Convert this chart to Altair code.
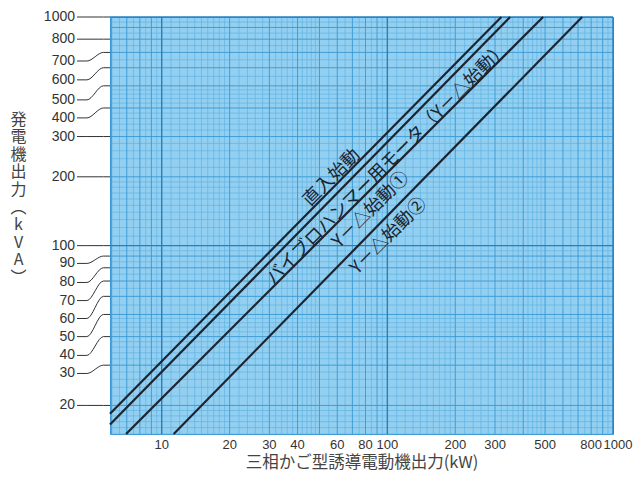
import altair as alt
import pandas as pd

# ---------------- data ----------------
x_ticks = [10, 20, 30, 40, 60, 80, 100, 200, 300, 500, 800]
x_last_tick = [1000]
y_ticks = [1000, 800, 700, 600, 500, 400, 300, 200, 100, 90, 80, 70, 60, 50, 40, 30, 20]
# where each y label is printed (labels are pushed apart, joined by leader lines)
y_label_at = [1000, 800, 642, 531, 434, 362, 300, 200, 100, 83.6, 69, 57.5, 48, 40, 33.1, 27.6, 20]

line_names = ["直入始動", "バイブロハンマー用モータ", "Y－△始動①", "Y－△始動②"]
line_x0 = [5.9, 5.9, 6.95, 11.3]
line_y0 = [18.4, 16.5, 15, 15]
line_x1 = [320, 350, 490, 730]
line_y1 = [1000, 1000, 1000, 1000]

label_texts = ["直入始動", "バイブロハンマー用モータ（Y－△始動）", "Y－△始動①", "Y－△始動②"]
label_x = [56.8, 100.5, 84.6, 101.5]
label_y = [197.6, 228, 143, 110]

x_title = "三相かご型誘導電動機出力(kW)"
y_title = ["発", "電", "機", "出", "力", "︵", "k", "V", "A", "︶"]

X_DOMAIN = [5.9, 1000]
Y_DOMAIN = [15, 1000]
W, H = 503, 417

# ---------------- graph-paper grid (log paper rulings) ----------------
def rulings(lo, hi):
    rows = []
    for d in [1, 10, 100]:
        steps = list(range(10, 20, 1)) + list(range(20, 50, 2)) + list(range(50, 100, 5))
        for i in steps:
            v = d * i / 10
            if i == 10:
                c = "major"
            elif i % 10 == 0:
                c = "mid"
            else:
                c = "fine"
            if lo <= v <= hi:
                rows.append({"v": v, "c": c})
    if hi >= 1000:
        rows.append({"v": 1000.0, "c": "major"})
    return pd.DataFrame(rows)

gx = rulings(X_DOMAIN[0], X_DOMAIN[1])
gy = rulings(Y_DOMAIN[0], Y_DOMAIN[1])

xs = alt.Scale(type="log", domain=X_DOMAIN, nice=False)
ys = alt.Scale(type="log", domain=Y_DOMAIN, nice=False)

styles = {"fine": ("#5bb0e2", 0.6), "mid": ("#3898d4", 0.9), "major": ("#2380c1", 1.4)}

x_axis = alt.Axis(
    labels=False, ticks=False, domain=False, grid=False,
    title=x_title, titleFont="Noto Sans CJK JP", titleFontSize=16.5,
    titleFontWeight="normal", titleColor="#444444", titlePadding=20,
)
y_axis = alt.Axis(
    labels=False, ticks=False, domain=False, grid=False,
    title=y_title, titleAngle=0, titleX=-92, titleY=94, titleBaseline="top",
    titleAlign="center", titleFont="Noto Sans CJK JP", titleFontSize=16,
    titleFontWeight="normal", titleColor="#444444", titleLineHeight=17.6,
)

layers = []
for c in ["fine", "mid", "major"]:
    col, sw = styles[c]
    layers.append(
        alt.Chart(gx[gx.c == c]).mark_rule(color=col, strokeWidth=sw).encode(
            x=alt.X("v:Q", scale=xs, axis=x_axis)
        )
    )
    layers.append(
        alt.Chart(gy[gy.c == c]).mark_rule(color=col, strokeWidth=sw).encode(
            y=alt.Y("v:Q", scale=ys, axis=y_axis)
        )
    )

# ---------------- characteristic lines ----------------
rows = []
for n, a, b, c2, d in zip(line_names, line_x0, line_y0, line_x1, line_y1):
    rows.append({"name": n, "x": a, "y": b, "o": 0})
    rows.append({"name": n, "x": c2, "y": d, "o": 1})
ldf = pd.DataFrame(rows)

lines = alt.Chart(ldf).mark_line(color="#1c2430", strokeWidth=2.2).encode(
    x=alt.X("x:Q", scale=xs, axis=x_axis),
    y=alt.Y("y:Q", scale=ys, axis=y_axis),
    detail="name:N",
    order="o:Q",
)

tdf = pd.DataFrame({"t": label_texts, "x": label_x, "y": label_y})
texts = alt.Chart(tdf).mark_text(
    angle=315, align="center", baseline="middle", font="Noto Sans CJK JP",
    fontSize=18, color="#1c2430",
).encode(
    x=alt.X("x:Q", scale=xs, axis=x_axis),
    y=alt.Y("y:Q", scale=ys, axis=y_axis),
    text="t:N",
)

# ---------------- x tick labels ----------------
xlab = alt.Chart(pd.DataFrame({"v": x_ticks, "txt": [str(v) for v in x_ticks]})).mark_text(
    align="center", baseline="middle", font="Liberation Sans", fontSize=13, color="#333333"
).encode(
    x=alt.X("v:Q", scale=xs, axis=x_axis),
    y=alt.value(H + 11),
    text="txt:N",
)
xlab_last = alt.Chart(pd.DataFrame({"v": x_last_tick, "txt": [str(v) for v in x_last_tick]})).mark_text(
    align="center", baseline="middle", font="Liberation Sans", fontSize=13, color="#333333", dx=5
).encode(
    x=alt.X("v:Q", scale=xs, axis=x_axis),
    y=alt.value(H + 11),
    text="txt:N",
)

# ---------------- y tick labels ----------------
ylab = alt.Chart(pd.DataFrame({"txt": [str(v) for v in y_ticks], "y": y_label_at})).mark_text(
    align="right", baseline="middle", font="Liberation Sans", fontSize=14, color="#333333"
).encode(
    x=alt.value(-35),
    y=alt.Y("y:Q", scale=ys, axis=y_axis),
    text="txt:N",
)

# ---------------- leader lines from y labels to the axis ----------------
lead = []
for v, d in zip(y_ticks, y_label_at):
    for t, yy in [(0.0, d), (0.3, d), (0.8, v), (1.0, v)]:
        lead.append({"k": str(v), "t": t, "y": yy})
lead_df = pd.DataFrame(lead)

leaders = alt.Chart(lead_df).mark_line(
    color="#333333", strokeWidth=1, interpolate="monotone"
).encode(
    x=alt.X("t:Q", scale=alt.Scale(domain=[0, 1], range=[-33, 0]), axis=None),
    y=alt.Y("y:Q", scale=ys, axis=y_axis),
    detail="k:N",
    order="t:Q",
)

main = alt.layer(*layers, lines, texts, xlab, xlab_last, ylab)
chart = alt.layer(main, leaders).resolve_scale(x="independent").properties(
    width=W, height=H,
    autosize=alt.AutoSizeParams(type="none"),
    padding={"left": 102, "top": 9, "right": 21, "bottom": 39},
).configure_view(fill="#93cff0", stroke="#3898d4", strokeWidth=1)

chart.save("out.html", embed_options={"renderer": "svg", "actions": False})
